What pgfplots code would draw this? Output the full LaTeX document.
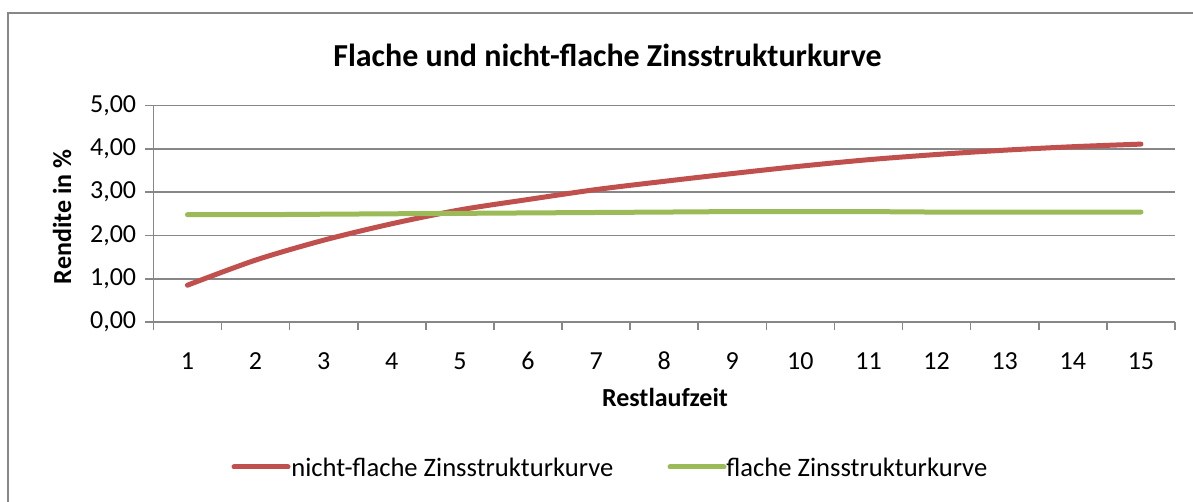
\documentclass[border=0pt]{standalone}
\usepackage{pgfplots}
\pgfplotsset{compat=1.18}
\usepackage{fontspec}
\setmainfont{Carlito}
\definecolor{zsred}{HTML}{C0504D}
\definecolor{zsgreen}{HTML}{9BBB59}
\definecolor{gridgray}{HTML}{878787}

\begin{document}
\begin{tikzpicture}[x=1pt,y=1pt]
\fontsize{13.3}{16}\selectfont
% picture frame (1px = 0.5pt)
\useasboundingbox (0,0) rectangle (596.5,251);
\draw[gridgray, line width=0.8pt] (4,0) -- (4,244.5) -- (596.5,244.5);

\begin{axis}[
    at={(76.7pt,90pt)}, anchor=origin,
    scale only axis,
    width=510.8pt, height=108.2pt,
    xmin=0.5, xmax=15.5,
    ymin=0, ymax=5,
    axis x line*=bottom, axis y line*=left,
    axis line style={gridgray, line width=0.8pt},
    xtick={1,...,15},
    major x tick style={draw=none},
    minor xtick={0.5,1.5,...,15.5},
    minor x tick style={gridgray, line width=0.8pt},
    minor tick length=4pt,
    ytick={0,1,...,5},
    y tick style={gridgray, line width=0.8pt},
    major tick length=4pt,
    tick align=outside,
    ymajorgrids,
    major grid style={gridgray, line width=0.8pt},
    yticklabel style={/pgf/number format/.cd, fixed, fixed zerofill, precision=2, use comma, assume math mode=true},
    xticklabel style={/pgf/number format/assume math mode=true, yshift=-6pt, text height=9pt, text depth=0pt},
    tick label style={font=\fontsize{13}{15.6}\selectfont},
]
% nicht-flache Zinsstrukturkurve
\addplot[zsred, line width=2.5pt, smooth, line cap=round] coordinates {
    (1,0.85) (2,1.43) (3,1.89) (4,2.27) (5,2.59) (6,2.83) (7,3.06)
    (8,3.25) (9,3.43) (10,3.60) (11,3.75) (12,3.87) (13,3.97) (14,4.05) (15,4.11)
};
% flache Zinsstrukturkurve
\addplot[zsgreen, line width=2.5pt, smooth, line cap=round] coordinates {
    (1,2.48) (2,2.48) (3,2.49) (4,2.50) (5,2.51) (6,2.52) (7,2.53)
    (8,2.54) (9,2.55) (10,2.55) (11,2.55) (12,2.54) (13,2.54) (14,2.54) (15,2.54)
};
\end{axis}

% title and axis labels
\node[font=\fontsize{16}{19}\selectfont\bfseries] at (303.75,223.5) {Flache und nicht-flache Zinsstrukturkurve};
\node[font=\fontsize{13}{15.6}\selectfont\bfseries, rotate=90] at (31,142.5) {Rendite in \%};
\node[font=\fontsize{13}{15.6}\selectfont\bfseries] at (332.5,52.5) {Restlaufzeit};

% legend
\draw[zsred, line width=2.5pt, line cap=round] (117,17.5) -- (144,17.5);
\node[anchor=west, inner sep=0pt] at (145.5,17.5) {nicht-flache Zinsstrukturkurve};
\draw[zsgreen, line width=2.5pt, line cap=round] (335,17.5) -- (362,17.5);
\node[anchor=west, inner sep=0pt] at (363,17.5) {flache Zinsstrukturkurve};
\end{tikzpicture}
\end{document}
